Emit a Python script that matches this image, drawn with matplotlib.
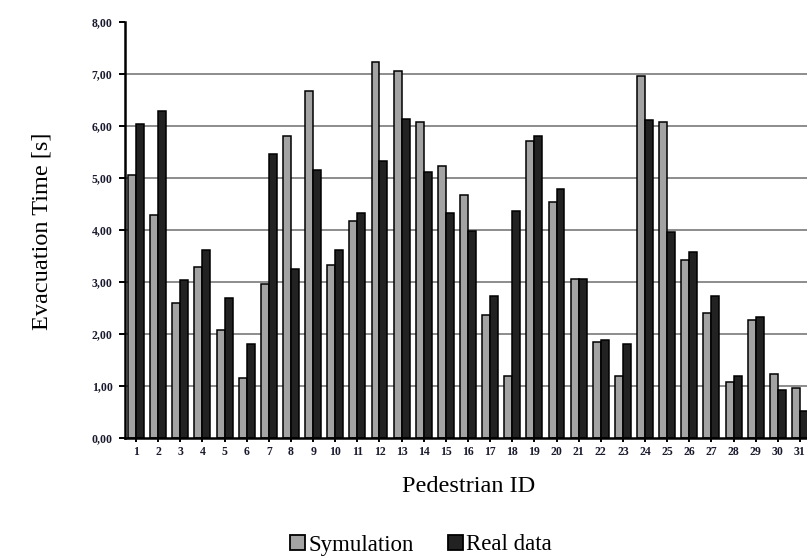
import matplotlib
matplotlib.use("Agg")
import matplotlib.pyplot as plt
import numpy as np
from matplotlib.patches import Patch
from matplotlib.ticker import FuncFormatter

pedestrian_ids = list(range(1, 32))
simulation = [5.06, 4.28, 2.59, 3.29, 2.08, 1.15, 2.96, 5.80, 6.68, 3.33,
              4.18, 7.24, 7.05, 6.08, 5.24, 4.68, 2.37, 1.20, 5.71, 4.54,
              3.06, 1.84, 1.20, 6.97, 6.08, 3.43, 2.40, 1.07, 2.27, 1.24, 0.96]
real_data = [6.04, 6.28, 3.03, 3.62, 2.69, 1.81, 5.47, 3.25, 5.15, 3.62,
             4.32, 5.33, 6.13, 5.11, 4.32, 3.99, 2.74, 4.36, 5.80, 4.78,
             3.06, 1.89, 1.81, 6.12, 3.96, 3.57, 2.74, 1.20, 2.32, 0.93, 0.51]
series_names = ["Symulation", "Real data"]

plt.rcParams["font.family"] = ["Liberation Serif", "DejaVu Serif"]

W, H = 807, 556
fig = plt.figure(figsize=(W / 100, H / 100), dpi=100)
left, right, bottom, top = 125, 811, 438, 22
ax = fig.add_axes([left / W, 1 - bottom / H, (right - left) / W, (bottom - top) / H])

x = np.array(pedestrian_ids, dtype=float)
bw = 0.36
sim_color = "#a3a3a3"
real_color = "#222222"
ax.bar(x - bw / 2, simulation, width=bw, color=sim_color, edgecolor="black",
       linewidth=1.1, zorder=3)
ax.bar(x + bw / 2, real_data, width=bw, color=real_color, edgecolor="black",
       linewidth=1.1, zorder=3)

ax.set_xlim(0.5, 31.5)
ax.set_ylim(0, 8)
ax.set_yticks(np.arange(0, 9, 1))
ax.yaxis.set_major_formatter(FuncFormatter(lambda v, p: f"{v:.2f}".replace(".", ",")))
ax.set_xticks(x)
ax.set_xticklabels([str(i) for i in pedestrian_ids])

for yv in range(1, 8):
    ax.axhline(yv, color="#8c8c8c", linewidth=1.4, zorder=1)

for s in ["top", "right"]:
    ax.spines[s].set_visible(False)
for s in ["left", "bottom"]:
    ax.spines[s].set_color("black")
    ax.spines[s].set_linewidth(1.8)
    ax.spines[s].set_zorder(4)

ax.tick_params(axis="y", length=4, width=1.4, labelsize=8.5, pad=5)
ax.tick_params(axis="x", length=3, width=1.4, labelsize=8.5, pad=3)
for lbl in ax.get_xticklabels() + ax.get_yticklabels():
    lbl.set_fontweight("bold")
    lbl.set_color("#1a1a2e")

fig.text(42 / W, 1 - 231 / H, "Evacuation Time [s]", rotation=90,
         ha="center", va="center", fontsize=17.5)
fig.text(469 / W, 1 - 486 / H, "Pedestrian ID", ha="center", va="center",
         fontsize=17.5)

handles = [Patch(facecolor=sim_color, edgecolor="black", linewidth=1.3),
           Patch(facecolor=real_color, edgecolor="black", linewidth=1.3)]
fig.legend(handles, series_names, loc="center", bbox_to_anchor=(421 / W, 1 - 545 / H),
           ncol=2, frameon=False, fontsize=16.5, handlelength=0.65, handleheight=0.65,
           handletextpad=0.15, columnspacing=1.5, borderaxespad=0, borderpad=0)

fig.savefig("out.png", dpi=100)
